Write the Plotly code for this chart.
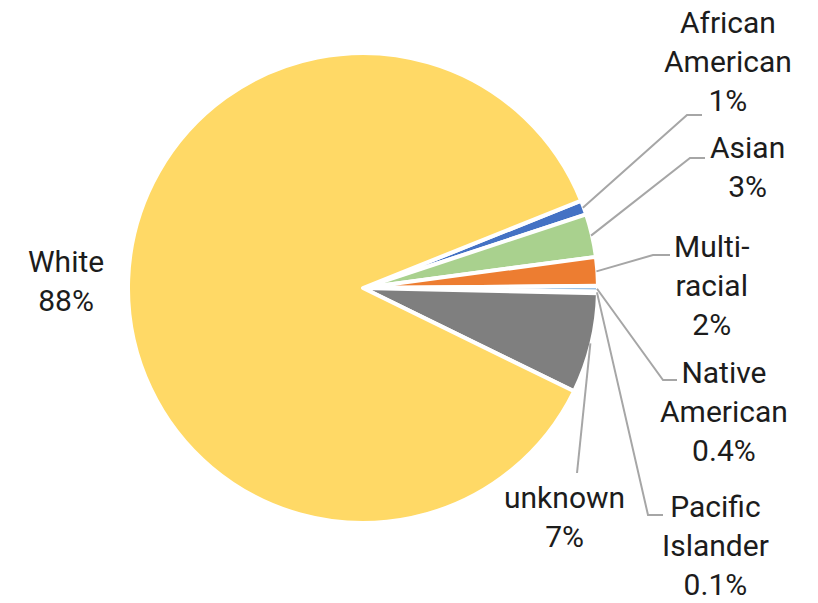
import math
import plotly.graph_objects as go

# Enrollment by race / ethnicity (percent of total)
groups = ["African American", "Asian", "Multi-racial", "Native American",
          "Pacific Islander", "unknown", "White"]
shares = [1, 3, 2, 0.4, 0.1, 7, 88]
label_text = ["African<br>American<br>1%", "Asian<br>3%", "Multi-<br>racial<br>2%",
              "Native<br>American<br>0.4%", "Pacific<br>Islander<br>0.1%",
              "unknown<br>7%", "White<br>88%"]
colors = ["#4472C4", "#A9D18E", "#ED7D31", "#9DC3E6", "#264478", "#7F7F7F", "#FFD966"]

W, H = 818, 603
CX, CY, R = 363, 288, 235          # pie centre and radius in pixels
ROTATION = 68.2                    # clockwise start angle from 12 o'clock
BORDER = 4

# label block centres and leader-line elbows (pixels); None = no leader
label_pos = [(728, 62), (747, 167), (711, 285), (724, 411), (715, 545), (564, 517), (66, 281)]
elbows = [
    [(687, 115), (702, 115)],
    [(690, 158), (705, 158)],
    [(653, 255), (670, 255)],
    [(663, 380), (677, 380)],
    [(648, 515), (663, 515)],
    [(577, 473)],
    None,
]


def px(x):
    return x / W


def py(y):
    return 1 - y / H


fig = go.Figure(go.Pie(
    labels=groups,
    values=shares,
    sort=False,
    direction="clockwise",
    rotation=ROTATION,
    textinfo="none",
    hoverinfo="label+percent",
    marker=dict(colors=colors, line=dict(color="white", width=BORDER)),
    domain=dict(x=[px(CX - R), px(CX + R)], y=[py(CY + R), py(CY - R)]),
    showlegend=False,
))

# leader lines start on the outer arc at each slice's mid angle
total = sum(shares)
cum = 0.0
shapes = []
for val, elb in zip(shares, elbows):
    mid = cum + val / 2
    cum += val
    if elb is None:
        continue
    ang = math.radians(90 - ROTATION - mid / total * 360)
    r0 = R - BORDER / 2 + 1
    sx, sy = CX + r0 * math.cos(ang), CY - r0 * math.sin(ang)
    pts = [(sx, sy)] + elb
    path = "M " + " L ".join(f"{px(x):.5f},{py(y):.5f}" for x, y in pts)
    shapes.append(dict(type="path", path=path, xref="paper", yref="paper",
                       line=dict(color="#A6A6A6", width=2)))

annotations = [
    dict(text=t, x=px(x), y=py(y), xref="paper", yref="paper",
         xanchor="center", yanchor="middle", align="center", showarrow=False,
         font=dict(family="Roboto", size=30, color="#1c1c1c"))
    for t, (x, y) in zip(label_text, label_pos)
]

fig.update_layout(
    width=W, height=H,
    margin=dict(l=0, r=0, t=0, b=0),
    paper_bgcolor="white",
    plot_bgcolor="white",
    shapes=shapes,
    annotations=annotations,
)

fig.write_html("out.html")
